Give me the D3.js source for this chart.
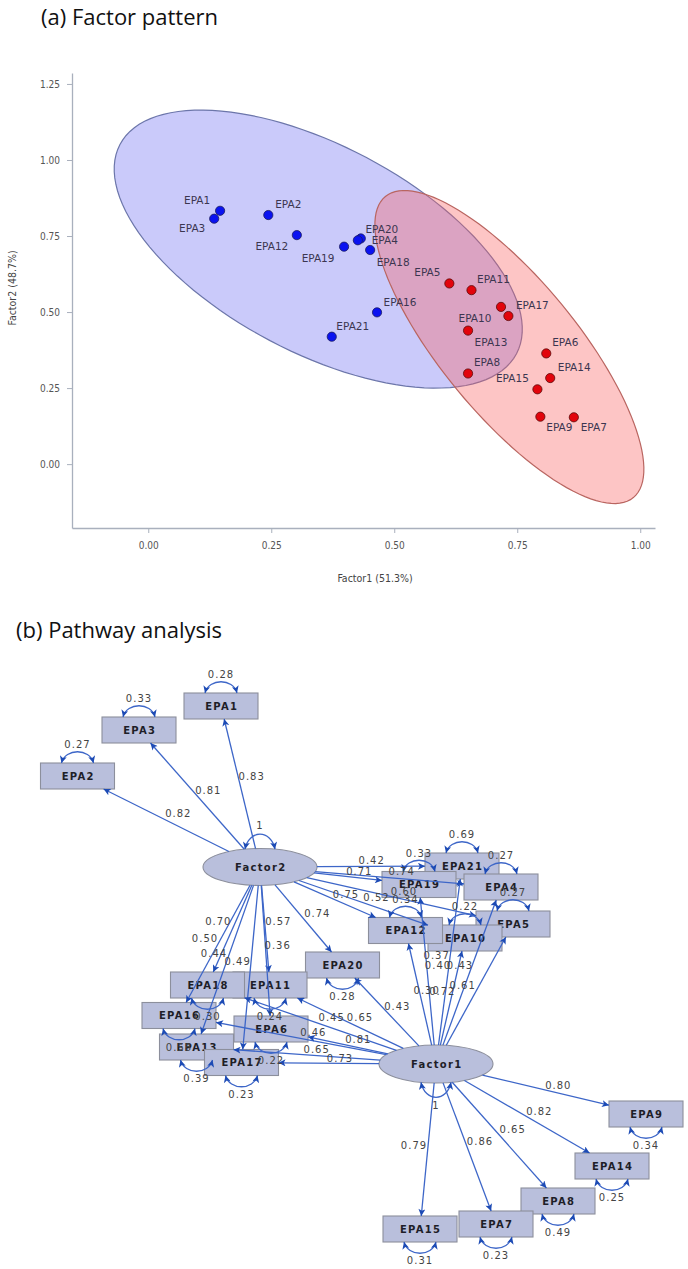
<!DOCTYPE html>
<html>
<head>
<meta charset="utf-8">
<script src="https://cdn.jsdelivr.net/npm/d3@7"></script>
<style>
  body { margin: 0; background: #fff; }
  svg { display: block; }
</style>
</head>
<body>
<div id="chart"></div>
<script>
// ---------- (a) factor pattern data ----------
var items    = ['EPA1','EPA2','EPA3','EPA4','EPA5','EPA6','EPA7','EPA8','EPA9','EPA10','EPA11',
                'EPA12','EPA13','EPA14','EPA15','EPA16','EPA17','EPA18','EPA19','EPA20','EPA21'];
var factor1  = [0.146,0.244,0.134,0.432,0.612,0.809,0.865,0.650,0.797,0.717,0.657,
                0.302,0.650,0.817,0.791,0.465,0.732,0.451,0.398,0.426,0.373];
var factor2  = [0.833,0.819,0.807,0.742,0.594,0.364,0.154,0.298,0.156,0.517,0.572,
                0.753,0.439,0.283,0.246,0.499,0.487,0.704,0.715,0.736,0.419];
// cluster: 2 = Factor2 group (blue), 1 = Factor1 group (red)
var cluster  = [2,2,2,2,1,1,1,1,1,1,1,2,1,1,1,2,1,2,2,2,2];
var xTicks   = [0, 0.25, 0.5, 0.75, 1];
var yTicks   = [0, 0.25, 0.5, 0.75, 1, 1.25];
// cluster ellipses (centre, major and minor half-axis vectors, data units)
var ellipseCenter = [[0.3455, 0.707], [0.734, 0.385]];
var ellipseMajor  = [[0.403, -0.344], [0.252, -0.495]];
var ellipseMinor  = [[-0.098, -0.301], [-0.106, -0.141]];

// ---------- (b) pathway data ----------
var f2Items    = ['EPA1','EPA3','EPA2','EPA21','EPA19','EPA4','EPA5','EPA12','EPA10','EPA20',
                  'EPA18','EPA16','EPA13','EPA17','EPA11','EPA6'];
var f2Loadings = [0.83,0.81,0.82,0.42,0.71,0.74,0.60,0.75,0.52,0.74,0.70,0.50,0.44,0.49,0.57,0.36];
var f1Items    = ['EPA9','EPA14','EPA8','EPA7','EPA15','EPA20','EPA12','EPA19','EPA21','EPA4',
                  'EPA5','EPA10','EPA11','EPA18','EPA16','EPA6','EPA13','EPA17'];
var f1Loadings = [0.80,0.82,0.65,0.86,0.79,0.43,0.30,0.40,0.37,0.43,0.61,0.72,0.65,0.45,0.46,0.81,0.65,0.73];
var errItems     = ['EPA1','EPA3','EPA2','EPA21','EPA19','EPA4','EPA5','EPA12','EPA10','EPA20','EPA18',
                    'EPA11','EPA16','EPA6','EPA13','EPA17','EPA9','EPA14','EPA8','EPA7','EPA15'];
var errVariances = [0.28,0.33,0.27,0.69,0.33,0.27,0.27,0.34,0.22,0.28,0.30,
                    0.24,0.58,0.22,0.39,0.23,0.34,0.25,0.49,0.23,0.31];
var factorNames     = ['Factor2','Factor1'];
var factorVariances = [1, 1];

// ---------- layout ----------
var W = 688, H = 1269;
// diagram node centres and side of the variance loop (drawing order)
var nodeLayout = {
  'EPA1':  {x: 221, y: 706,  side: 'top'},
  'EPA3':  {x: 139, y: 730,  side: 'top'},
  'EPA2':  {x: 77.5,y: 776,  side: 'top'},
  'EPA21': {x: 462, y: 866,  side: 'top'},
  'EPA19': {x: 419, y: 884.5,side: 'top'},
  'EPA4':  {x: 501, y: 887,  side: 'top'},
  'EPA5':  {x: 513, y: 924,  side: 'top'},
  'EPA10': {x: 465, y: 938,  side: 'top'},
  'EPA12': {x: 405.5,y: 930.5,side: 'top'},
  'EPA20': {x: 342.5,y: 965, side: 'bottom'},
  'EPA11': {x: 270, y: 985,  side: 'bottom'},
  'EPA18': {x: 207.5,y: 985, side: 'bottom'},
  'EPA16': {x: 179, y: 1015.5,side: 'bottom'},
  'EPA6':  {x: 271, y: 1029, side: 'bottom'},
  'EPA13': {x: 196.5,y: 1047,side: 'bottom'},
  'EPA17': {x: 241.5,y: 1062.5,side: 'bottom'},
  'EPA9':  {x: 646, y: 1114, side: 'bottom'},
  'EPA14': {x: 612, y: 1166, side: 'bottom'},
  'EPA8':  {x: 558, y: 1201, side: 'bottom'},
  'EPA7':  {x: 496, y: 1224, side: 'bottom'},
  'EPA15': {x: 420, y: 1229, side: 'bottom'}
};
var factorLayout = {
  'Factor2': {x: 260, y: 867,  rx: 57, ry: 18.5, side: 'top'},
  'Factor1': {x: 436, y: 1064, rx: 57, ry: 19,   side: 'bottom'}
};
var boxW = 74, boxH = 26;
// where each path coefficient is written
var edgeLabelPos = {
  'Factor2-EPA1': [251.7,776.7], 'Factor2-EPA3': [208.3,790], 'Factor2-EPA2': [178.3,813.3],
  'Factor2-EPA21':[371.7,860],   'Factor2-EPA19':[359.3,871], 'Factor2-EPA4': [401.7,871.7],
  'Factor2-EPA5': [404,891],     'Factor2-EPA12':[346,894],   'Factor2-EPA10':[376.5,897.3],
  'Factor2-EPA20':[317.3,913.3], 'Factor2-EPA18':[218.3,921.7],'Factor2-EPA16':[205,938.3],
  'Factor2-EPA13':[214,953.5],   'Factor2-EPA17':[237.7,961.7],'Factor2-EPA11':[278.3,921.7],
  'Factor2-EPA6': [277.7,945],
  'Factor1-EPA9': [558.3,1085],  'Factor1-EPA14':[539.3,1111.7],'Factor1-EPA8':[512.7,1129.3],
  'Factor1-EPA7': [480,1141.7],  'Factor1-EPA15':[414,1145.7], 'Factor1-EPA20':[397.3,1006.5],
  'Factor1-EPA12':[426.7,990],   'Factor1-EPA19':[438,965.7],  'Factor1-EPA21':[436.7,955.7],
  'Factor1-EPA4': [460,965.7],   'Factor1-EPA5': [462.7,985],  'Factor1-EPA10':[442.3,991.7],
  'Factor1-EPA11':[360,1017.3],  'Factor1-EPA18':[331.7,1017.3],'Factor1-EPA16':[313.3,1032.7],
  'Factor1-EPA6': [358.3,1039.3],'Factor1-EPA13':[316.7,1049.3],'Factor1-EPA17':[340,1058.3]
};
// scatter label offsets (px, from the point)
var labelOffset = {
  'EPA1':[-23,-11],'EPA3':[-22,9],'EPA2':[20,-11],'EPA12':[-25,11],'EPA19':[-26,11],
  'EPA20':[24,-11],'EPA4':[24,2],'EPA18':[23,12],'EPA16':[23,-10],'EPA21':[21,-11],
  'EPA5':[-22,-11],'EPA11':[22,-11],'EPA17':[24,-11],'EPA10':[-26,11],'EPA13':[23,11],
  'EPA8':[19,-11],'EPA6':[19,-11],'EPA14':[24,-11],'EPA15':[-25,-11],'EPA9':[19,10],'EPA7':[20,10]
};

var svg = d3.select('#chart').append('svg')
  .attr('width', W).attr('height', H)
  .style('font-family', 'DejaVu Sans, sans-serif');

// ================= (a) Factor pattern =================
svg.append('text')
  .attr('x', 41).attr('y', 25)
  .style('font-family', 'Open Sans, sans-serif')
  .style('font-size', '22px')
  .attr('fill', '#111')
  .text('(a) Factor pattern');

var xScale = d3.scaleLinear().domain([-0.155, 1.03]).range([72, 655]);
var yScale = d3.scaleLinear().domain([-0.21, 1.286]).range([528, 73]);

var axisColor = '#a9b0bd';

// cluster ellipses
var ellipseLine = d3.line()
  .x(function(d){ return xScale(d[0]); })
  .y(function(d){ return yScale(d[1]); })
  .curve(d3.curveLinearClosed);

function ellipsePoints(i){
  return d3.range(0, 360, 3).map(function(a){
    var t = a * Math.PI / 180;
    return [ellipseCenter[i][0] + Math.cos(t) * ellipseMajor[i][0] + Math.sin(t) * ellipseMinor[i][0],
            ellipseCenter[i][1] + Math.cos(t) * ellipseMajor[i][1] + Math.sin(t) * ellipseMinor[i][1]];
  });
}
var ellFill   = ['rgba(95,95,240,0.33)', 'rgba(250,95,95,0.36)'];
var ellStroke = ['#6c76aa', '#b96560'];
[0, 1].forEach(function(i){
  svg.append('path')
    .attr('d', ellipseLine(ellipsePoints(i)))
    .attr('fill', ellFill[i])
    .attr('stroke', ellStroke[i])
    .attr('stroke-width', 1.2);
});

// axes
var xAxis = d3.axisBottom(xScale)
  .tickValues(xTicks).tickFormat(d3.format('.2f'))
  .tickSize(5).tickSizeOuter(0).tickPadding(9);
var yAxis = d3.axisLeft(yScale)
  .tickValues(yTicks).tickFormat(d3.format('.2f'))
  .tickSize(5).tickSizeOuter(0).tickPadding(7);

var gx = svg.append('g').attr('transform', 'translate(0,' + yScale.range()[0] + ')').call(xAxis);
var gy = svg.append('g').attr('transform', 'translate(' + xScale.range()[0] + ',0)').call(yAxis);
[gx, gy].forEach(function(g){
  g.select('.domain').attr('stroke', axisColor).attr('stroke-width', 1.3);
  g.selectAll('.tick line').attr('stroke', axisColor);
  g.selectAll('.tick text')
    .attr('fill', '#555')
    .style('font-family', 'DejaVu Sans Condensed, DejaVu Sans, sans-serif')
    .style('font-size', '10px');
});

svg.append('text')
  .attr('x', 375).attr('y', 582)
  .attr('text-anchor', 'middle')
  .style('font-family', 'DejaVu Sans Condensed, DejaVu Sans, sans-serif')
  .style('font-size', '10.5px')
  .attr('fill', '#444')
  .text('Factor1 (51.3%)');

svg.append('text')
  .attr('transform', 'translate(16,288) rotate(-90)')
  .attr('text-anchor', 'middle')
  .style('font-family', 'DejaVu Sans Condensed, DejaVu Sans, sans-serif')
  .style('font-size', '10.5px')
  .attr('fill', '#444')
  .text('Factor2 (48.7%)');

// points
var pts = items.map(function(n, i){
  return {name: n, f1: factor1[i], f2: factor2[i], c: cluster[i]};
});

svg.selectAll('circle.pt')
  .data(pts)
  .enter()
  .append('circle')
  .attr('class', 'pt')
  .attr('cx', function(d){ return xScale(d.f1); })
  .attr('cy', function(d){ return yScale(d.f2); })
  .attr('r', 4.6)
  .attr('fill', function(d){ return d.c === 2 ? '#0a12f0' : '#e2040c'; })
  .attr('stroke', function(d){ return d.c === 2 ? '#1a1a60' : '#5a0a0a'; })
  .attr('stroke-width', 0.8);

svg.selectAll('text.ptlab')
  .data(pts)
  .enter()
  .append('text')
  .attr('class', 'ptlab')
  .attr('x', function(d){ return xScale(d.f1) + labelOffset[d.name][0]; })
  .attr('y', function(d){ return yScale(d.f2) + labelOffset[d.name][1]; })
  .attr('text-anchor', 'middle')
  .attr('dominant-baseline', 'central')
  .style('font-size', '10.5px')
  .attr('fill', '#3b3650')
  .text(function(d){ return d.name; });

// ================= (b) Pathway analysis =================
svg.append('text')
  .attr('x', 16).attr('y', 638)
  .style('font-family', 'Open Sans, sans-serif')
  .style('font-size', '22px')
  .attr('fill', '#111')
  .text('(b) Pathway analysis');

var lineColor = '#3d66c8', headColor = '#1d4bb5';
var nodeFill = '#b9bfdc', nodeStroke = '#8c8f9c';

var defs = svg.append('defs');
defs.append('marker')
  .attr('id', 'arr')
  .attr('viewBox', '0 0 10 10')
  .attr('refX', 10).attr('refY', 5)
  .attr('markerWidth', 8).attr('markerHeight', 7)
  .attr('markerUnits', 'userSpaceOnUse')
  .attr('orient', 'auto-start-reverse')
  .append('path')
  .attr('d', 'M0,0 L10,5 L0,10 L2.5,5 z')
  .attr('fill', headColor);

var diagram = svg.append('g');

// boxes
var order = Object.keys(nodeLayout);
var boxG = diagram.selectAll('g.box')
  .data(order)
  .enter()
  .append('g')
  .attr('class', 'box');
boxG.append('rect')
  .attr('x', function(d){ return nodeLayout[d].x - boxW / 2; })
  .attr('y', function(d){ return nodeLayout[d].y - boxH / 2; })
  .attr('width', boxW).attr('height', boxH)
  .attr('fill', nodeFill)
  .attr('stroke', nodeStroke)
  .attr('stroke-width', 1.1);
boxG.append('text')
  .attr('x', function(d){ return nodeLayout[d].x + 0.7; })
  .attr('y', function(d){ return nodeLayout[d].y; })
  .attr('text-anchor', 'middle')
  .attr('dominant-baseline', 'central')
  .style('font-size', '10px')
  .style('font-weight', 'bold')
  .style('letter-spacing', '1.3px')
  .attr('fill', '#1e1e28')
  .text(function(d){ return d; });

// factor ellipses
var facG = diagram.selectAll('g.fac')
  .data(factorNames)
  .enter()
  .append('g')
  .attr('class', 'fac');
facG.append('ellipse')
  .attr('cx', function(d){ return factorLayout[d].x; })
  .attr('cy', function(d){ return factorLayout[d].y; })
  .attr('rx', function(d){ return factorLayout[d].rx; })
  .attr('ry', function(d){ return factorLayout[d].ry; })
  .attr('fill', nodeFill)
  .attr('stroke', nodeStroke)
  .attr('stroke-width', 1.1);
facG.append('text')
  .attr('x', function(d){ return factorLayout[d].x + 0.7; })
  .attr('y', function(d){ return factorLayout[d].y; })
  .attr('text-anchor', 'middle')
  .attr('dominant-baseline', 'central')
  .style('font-size', '10px')
  .style('font-weight', 'bold')
  .style('letter-spacing', '1.3px')
  .attr('fill', '#1e1e28')
  .text(function(d){ return d; });

// edges
var edges = [];
f2Items.forEach(function(n, i){ edges.push({from: 'Factor2', to: n, v: f2Loadings[i]}); });
f1Items.forEach(function(n, i){ edges.push({from: 'Factor1', to: n, v: f1Loadings[i]}); });

function edgeGeom(e){
  var s = factorLayout[e.from], t = nodeLayout[e.to];
  var dx = t.x - s.x, dy = t.y - s.y;
  var ks = 1 / Math.sqrt((dx / s.rx) * (dx / s.rx) + (dy / s.ry) * (dy / s.ry));
  var kt = Math.min(dx === 0 ? Infinity : (boxW / 2) / Math.abs(dx),
                    dy === 0 ? Infinity : (boxH / 2) / Math.abs(dy));
  return [[s.x + ks * dx, s.y + ks * dy], [t.x - kt * dx, t.y - kt * dy]];
}

diagram.selectAll('line.edge')
  .data(edges)
  .enter()
  .append('line')
  .attr('class', 'edge')
  .attr('x1', function(d){ return edgeGeom(d)[0][0]; })
  .attr('y1', function(d){ return edgeGeom(d)[0][1]; })
  .attr('x2', function(d){ return edgeGeom(d)[1][0]; })
  .attr('y2', function(d){ return edgeGeom(d)[1][1]; })
  .attr('stroke', lineColor)
  .attr('stroke-width', 1.3)
  .attr('marker-end', 'url(#arr)');

// variance loops
var loops = errItems.map(function(n, i){
  var p = nodeLayout[n];
  var y0 = p.side === 'top' ? p.y - boxH / 2 : p.y + boxH / 2;
  return {x: p.x, y0: y0, dir: p.side === 'top' ? -1 : 1, v: errVariances[i], hw: 16, h: 15};
});
factorNames.forEach(function(n, i){
  var p = factorLayout[n];
  var dir = p.side === 'top' ? -1 : 1;
  var y0 = p.y + dir * p.ry * Math.sqrt(1 - (15 / p.rx) * (15 / p.rx));
  loops.push({x: p.x, y0: y0, dir: dir, v: factorVariances[i], hw: 15, h: 20});
});

diagram.selectAll('path.loop')
  .data(loops)
  .enter()
  .append('path')
  .attr('class', 'loop')
  .attr('d', function(d){
    var c = d.y0 + d.dir * d.h;
    return 'M' + (d.x - d.hw) + ',' + d.y0 +
           ' C' + (d.x - d.hw + 4) + ',' + c + ' ' + (d.x + d.hw - 4) + ',' + c +
           ' ' + (d.x + d.hw) + ',' + d.y0;
  })
  .attr('fill', 'none')
  .attr('stroke', lineColor)
  .attr('stroke-width', 1.3)
  .attr('marker-start', 'url(#arr)')
  .attr('marker-end', 'url(#arr)');

var numFmt = function(v){ return v === 1 ? '1' : d3.format('.2f')(v); };

diagram.selectAll('text.loopv')
  .data(loops)
  .enter()
  .append('text')
  .attr('class', 'loopv')
  .attr('x', function(d){ return d.x; })
  .attr('y', function(d){ return d.y0 + d.dir * (d.h + 3.5); })
  .attr('text-anchor', 'middle')
  .attr('dominant-baseline', 'central')
  .style('font-size', '10px')
  .style('letter-spacing', '1px')
  .attr('fill', '#444')
  .text(function(d){ return numFmt(d.v); });

diagram.selectAll('text.coef')
  .data(edges)
  .enter()
  .append('text')
  .attr('class', 'coef')
  .attr('x', function(d){ return edgeLabelPos[d.from + '-' + d.to][0]; })
  .attr('y', function(d){ return edgeLabelPos[d.from + '-' + d.to][1]; })
  .attr('text-anchor', 'middle')
  .attr('dominant-baseline', 'central')
  .style('font-size', '10px')
  .style('letter-spacing', '1px')
  .attr('fill', '#444')
  .text(function(d){ return numFmt(d.v); });
</script>
</body>
</html>
